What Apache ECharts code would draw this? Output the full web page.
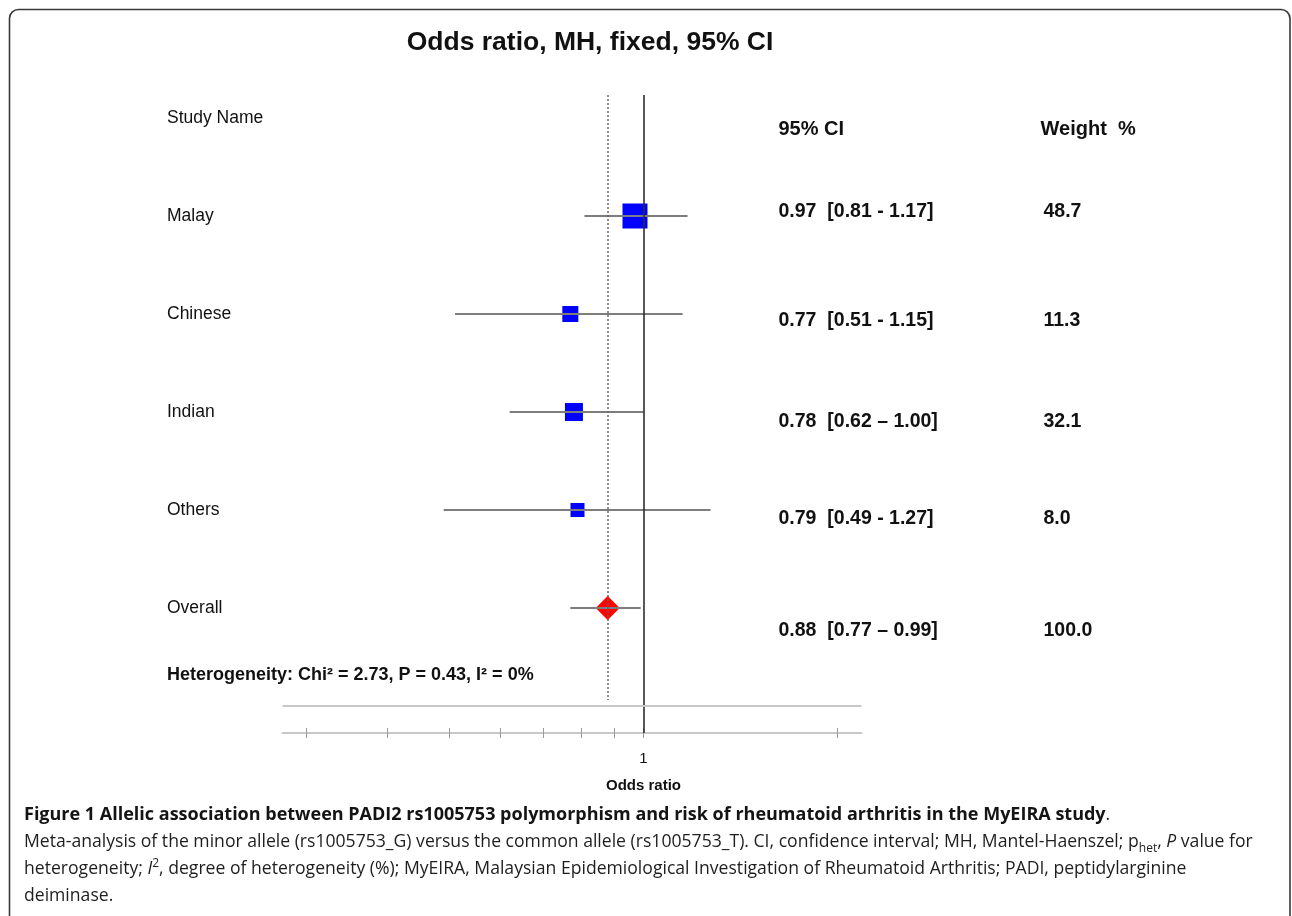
<!DOCTYPE html>
<html>
<head>
<meta charset="utf-8">
<script src="https://cdn.jsdelivr.net/npm/echarts@6/dist/echarts.min.js"></script>
<style>
  html, body { margin: 0; padding: 0; background: #fff; }
  #chart { position: absolute; left: 0; top: 0; width: 1292px; height: 916px; }
  #caption { position: absolute; left: 24px; top: 800px; font-family: 'Open Sans', sans-serif;
             font-size: 17.6px; line-height: 27px; color: #1e1e1e; white-space: nowrap; }
  #caption b { font-size: 18px; color: #141414; }
  #caption sub, #caption sup { line-height: 0; font-size: 12px; }
</style>
</head>
<body>
<div id="chart"></div>
<div id="caption">
<b>Figure 1 Allelic association between PADI2 rs1005753 polymorphism and risk of rheumatoid arthritis in the MyEIRA study</b>.<br>
Meta-analysis of the minor allele (rs1005753_G) versus the common allele (rs1005753_T). CI, confidence interval; MH, Mantel-Haenszel; p<sub>het</sub>, <i>P</i> value for<br>
heterogeneity; <i>I</i><sup>2</sup>, degree of heterogeneity (%); MyEIRA, Malaysian Epidemiological Investigation of Rheumatoid Arthritis; PADI, peptidylarginine<br>
deiminase.
</div>
<script>
// ---------------- data ----------------
const studyNames = ['Malay', 'Chinese', 'Indian', 'Others'];
const oddsRatios = [0.97, 0.77, 0.78, 0.79];
const ciLower    = [0.81, 0.51, 0.62, 0.49];
const ciUpper    = [1.17, 1.15, 1.00, 1.27];
const weightPct  = [48.7, 11.3, 32.1, 8.0];
const ciDash     = ['-', '-', '\u2013', '-'];

const overallName  = 'Overall';
const overallOR    = 0.88;
const overallLower = 0.77;
const overallUpper = 0.99;
const overallWeight = 100.0;
const overallDash  = '\u2013';

const headerStudy  = 'Study Name';
const headerCI     = '95% CI';
const headerWeight = 'Weight  %';
const heterogeneityText = 'Heterogeneity: Chi\u00b2 = 2.73, P = 0.43, I\u00b2 = 0%';
const titleText    = 'Odds ratio, MH, fixed, 95% CI';
const xAxisTitle   = 'Odds ratio';

const tickValues   = [0.3, 0.4, 0.5, 0.6, 0.7, 0.8, 0.9, 1, 2];
const labelValues  = [1];
const axisRangeOR  = [0.2755, 2.178];

// ---------------- style ----------------
const FONT = "'Liberation Sans', Arial, sans-serif";
const TEXT = '#111111';
const squareSizes = [25, 16, 18, 14];
const diamondSize = [24, 24];
const tableDy = [11, -4, 7, 10, 9, 23];   // vertical label nudges (header, rows..., overall)
const rowRange = [-1.2347, 5.2755];        // row axis extent (row -1 = header, row 5 = separator)
const dottedEndRow = 4.94;

const ln = Math.log;
const fmt2 = v => v.toFixed(2);
const nRows = studyNames.length;

const rowLabels = [headerStudy].concat(studyNames, [overallName]);

const ciLines = studyNames.map((_, i) => [ln(ciLower[i]), ln(ciUpper[i]), i]);
ciLines.push([ln(overallLower), ln(overallUpper), nRows]);

const squareData = studyNames.map((_, i) => ({ value: [ln(oddsRatios[i]), i], symbolSize: squareSizes[i] }));
const diamondData = [{ value: [ln(overallOR), nRows], symbolSize: diamondSize }];

const ciStrings = studyNames.map((_, i) =>
  `${fmt2(oddsRatios[i])}  [${fmt2(ciLower[i])} ${ciDash[i]} ${fmt2(ciUpper[i])}]`);
ciStrings.push(`${fmt2(overallOR)}  [${fmt2(overallLower)} ${overallDash} ${fmt2(overallUpper)}]`);
const weightStrings = weightPct.map(w => w.toFixed(1)).concat([overallWeight.toFixed(1)]);

const lbl = (dx, dy, size) => ({
  show: true, offset: [dx, dy], fontSize: size, color: TEXT, fontWeight: 'bold',
  fontFamily: FONT, textBorderWidth: 0, opacity: 1
});
const tableData = [];
tableData.push({ value: [0, -1, headerCI], label: lbl(0, tableDy[0], 20) });
tableData.push({ value: [1, -1, headerWeight], label: lbl(0, tableDy[0], 20) });
ciStrings.forEach((s, i) => {
  tableData.push({ value: [0, i, s], label: lbl(0, tableDy[i + 1], 19.5) });
  tableData.push({ value: [1, i, weightStrings[i]], label: lbl(3, tableDy[i + 1], 19.5) });
});

const xMin = ln(axisRangeOR[0]), xMax = ln(axisRangeOR[1]);
const tickLn = tickValues.map(v => ln(v));
const labelLn = labelValues.map(v => ln(v));

const chart = echarts.init(document.getElementById('chart'), null, { renderer: 'canvas' });

const option = {
  animation: false,
  backgroundColor: '#fff',
  textStyle: { fontFamily: FONT },
  grid: [
    { left: 282.5, right: 1292 - 861.5, top: 95, bottom: 916 - 733, containLabel: false },
    { left: 778, width: 262, top: 95, bottom: 916 - 733, containLabel: false }
  ],
  xAxis: [
    {
      type: 'value', gridIndex: 0, position: 'bottom', min: xMin, max: xMax,
      splitLine: { show: false },
      axisLine: { show: true, onZero: false, lineStyle: { color: '#c8c8c8', width: 2 } },
      axisTick: { show: true, customValues: tickLn, length: 5, lineStyle: { color: '#9a9a9a', width: 1 } },
      axisLabel: {
        show: true, customValues: labelLn, margin: 12,
        formatter: v => Math.abs(v) < 1e-9 ? '{n|1}\n{t|' + xAxisTitle + '}' : '',
        rich: {
          n: { fontFamily: FONT, fontSize: 15, color: TEXT, lineHeight: 27 },
          t: { fontFamily: FONT, fontSize: 15, fontWeight: 'bold', color: TEXT, lineHeight: 27 }
        }
      }
    },
    {
      type: 'value', gridIndex: 0, position: 'bottom', min: xMin, max: xMax,
      splitLine: { show: false },
      axisLine: { show: false, onZero: false },
      axisTick: { show: true, inside: true, customValues: tickLn, length: 5, lineStyle: { color: '#9a9a9a', width: 1 } },
      axisLabel: { show: false }
    },
    {
      type: 'value', gridIndex: 1, min: 0, max: 1, show: false
    }
  ],
  yAxis: [
    {
      type: 'value', gridIndex: 0, inverse: true, min: rowRange[0], max: rowRange[1],
      splitLine: { show: false }, axisLine: { show: false }, axisTick: { show: false },
      axisLabel: {
        show: true, customValues: rowLabels.map((_, i) => i - 1),
        formatter: v => rowLabels[Math.round(v) + 1] || '',
        align: 'left', margin: 282.5 - 167,
        fontFamily: FONT, fontSize: 17.5, color: TEXT
      }
    },
    {
      type: 'value', gridIndex: 1, inverse: true, min: rowRange[0], max: rowRange[1], show: false
    }
  ],
  graphic: [
    {
      type: 'rect', silent: true, z: -10,
      shape: { x: 9.5, y: 9.5, width: 1280.5, height: 1000, r: 9 },
      style: { fill: 'none', stroke: '#3a3a3a', lineWidth: 1.6 }
    },
    {
      type: 'text', x: 590, y: 43, silent: true,
      style: { text: titleText, align: 'center', verticalAlign: 'middle',
               font: "bold 26.5px 'Liberation Sans', Arial, sans-serif", fill: TEXT }
    },
    {
      type: 'text', x: 167, y: 675, silent: true,
      style: { text: heterogeneityText, align: 'left', verticalAlign: 'middle',
               font: "bold 18px 'Liberation Sans', Arial, sans-serif", fill: TEXT }
    }
  ],
  series: [
    {
      name: 'studies', type: 'scatter', xAxisIndex: 0, yAxisIndex: 0, z: 2,
      symbol: 'rect', data: squareData,
      itemStyle: { color: '#0000ff', opacity: 1 },
      silent: true
    },
    {
      name: 'overall', type: 'scatter', xAxisIndex: 0, yAxisIndex: 0, z: 2,
      symbol: 'diamond', data: diamondData,
      itemStyle: { color: '#ff0000', opacity: 1 },
      silent: true
    },
    {
      name: 'ci', type: 'custom', xAxisIndex: 0, yAxisIndex: 0, z: 3, silent: true,
      data: ciLines,
      encode: { x: [0, 1], y: 2 },
      renderItem: (params, api) => {
        const p1 = api.coord([api.value(0), api.value(2)]);
        const p2 = api.coord([api.value(1), api.value(2)]);
        return { type: 'line', shape: { x1: p1[0], y1: p1[1], x2: p2[0], y2: p2[1] },
                 style: { stroke: '#7d7d7d', lineWidth: 2 } };
      }
    },
    {
      name: 'refs', type: 'line', xAxisIndex: 0, yAxisIndex: 0, z: 4, data: [], silent: true,
      markLine: {
        silent: true, symbol: 'none', animation: false, label: { show: false },
        data: [
          [{ coord: [0, rowRange[0]], lineStyle: { color: '#2e2e2e', width: 1.6, type: 'solid' } },
           { coord: [0, rowRange[1]] }],
          [{ coord: [ln(overallOR), rowRange[0]], lineStyle: { color: '#666', width: 1.5, type: [2, 2] } },
           { coord: [ln(overallOR), dottedEndRow] }],
          [{ coord: [xMin, nRows + 1], lineStyle: { color: '#c8c8c8', width: 2, type: 'solid' } },
           { coord: [xMax, nRows + 1] }]
        ]
      }
    },
    {
      name: 'table', type: 'scatter', xAxisIndex: 2, yAxisIndex: 1, z: 5, silent: true,
      symbolSize: 1, itemStyle: { color: '#ffffff', opacity: 0 },
      data: tableData,
      label: {
        show: true, position: 'right', distance: 0,
        formatter: p => p.value[2],
        fontFamily: FONT, fontSize: 19.5, fontWeight: 'bold', color: TEXT,
        align: 'left', verticalAlign: 'middle', opacity: 1
      },
      emphasis: { disabled: true }
    }
  ]
};
chart.setOption(option);
</script>
</body>
</html>
